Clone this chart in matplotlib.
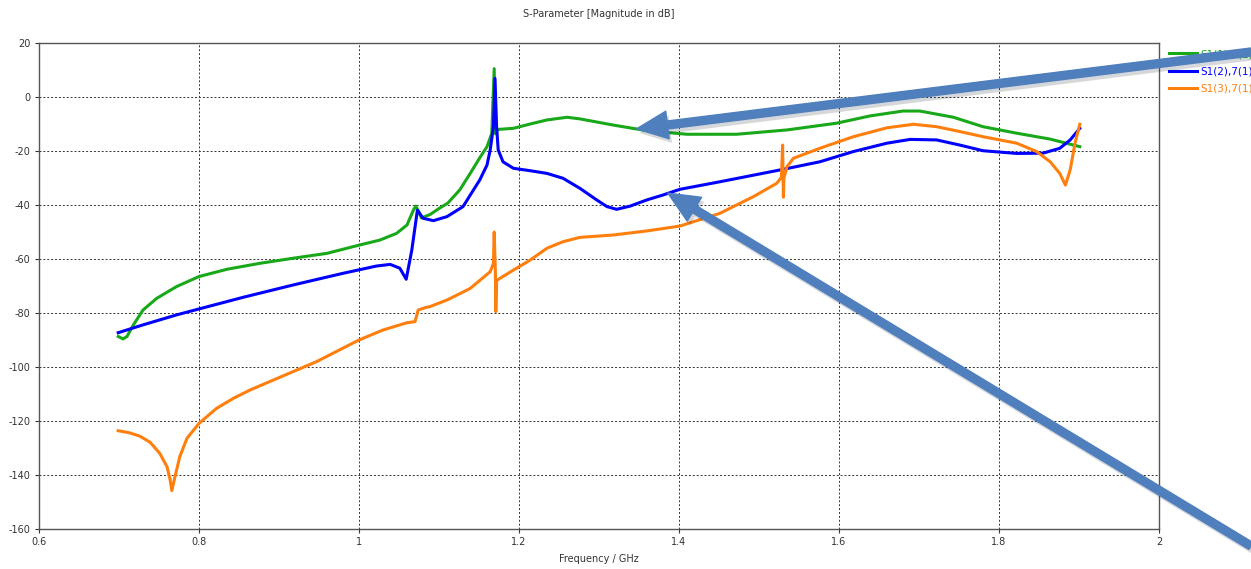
import matplotlib
matplotlib.use("Agg")
import matplotlib.pyplot as plt
import matplotlib.patheffects as pe

plt.rcParams["axes.unicode_minus"] = False

# Frecuencias (GHz) y magnitudes (dB)
f_s11 = [0.699, 0.705, 0.710, 0.718, 0.730, 0.747, 0.772, 0.800, 0.835, 0.876, 0.918, 0.960,
         1.001, 1.026, 1.047, 1.060, 1.068, 1.071, 1.0746, 1.078, 1.089, 1.101, 1.111, 1.126,
         1.139, 1.151, 1.160, 1.166, 1.169, 1.1705, 1.174, 1.193, 1.214, 1.235, 1.260, 1.276,
         1.318, 1.360, 1.410, 1.472, 1.535, 1.597, 1.639, 1.680, 1.701, 1.743, 1.780, 1.822,
         1.864, 1.901]
s11 = [-88.7, -89.6, -88.7, -84.4, -78.9, -74.6, -70.2, -66.5, -63.8, -61.6, -59.7, -57.9,
       -54.8, -53.0, -50.5, -47.4, -41.9, -40.4, -42.5, -44.8, -43.5, -41.1, -39.3, -34.4,
       -28.3, -22.5, -18.4, -13.4, 10.5, -13.6, -12.0, -11.6, -10.0, -8.5, -7.5, -8.1,
       -10.4, -12.5, -13.8, -13.8, -12.2, -9.7, -7.0, -5.2, -5.2, -7.5, -11.0, -13.4,
       -15.6, -18.4]

f_s12 = [0.699, 0.730, 0.772, 0.800, 0.855, 0.918, 0.980, 1.022, 1.039, 1.051, 1.059, 1.066,
         1.073, 1.080, 1.093, 1.110, 1.130, 1.151, 1.160, 1.164, 1.168, 1.170, 1.172, 1.174,
         1.180, 1.193, 1.214, 1.235, 1.255, 1.276, 1.297, 1.310, 1.322, 1.339, 1.360, 1.380,
         1.401, 1.451, 1.530, 1.576, 1.618, 1.660, 1.689, 1.722, 1.751, 1.780, 1.822, 1.855,
         1.876, 1.889, 1.901]
s12 = [-87.3, -84.4, -80.7, -78.5, -74.2, -69.6, -65.3, -62.6, -62.0, -63.4, -67.5, -56.7,
       -41.9, -44.9, -45.8, -44.3, -40.6, -30.7, -25.2, -19.6, -11.0, 6.9, -11.0, -19.6,
       -24.0, -26.4, -27.3, -28.3, -30.1, -33.8, -38.1, -40.6, -41.6, -40.4, -38.1, -36.3,
       -34.2, -31.4, -26.8, -24.0, -20.2, -17.1, -15.7, -15.9, -17.8, -19.9, -20.9, -20.8,
       -19.0, -15.9, -11.6]

f_s13 = [0.699, 0.712, 0.726, 0.739, 0.751, 0.760, 0.764, 0.766, 0.770, 0.776, 0.785, 0.800,
         0.822, 0.843, 0.864, 0.905, 0.947, 1.000, 1.030, 1.060, 1.070, 1.074, 1.083, 1.089,
         1.110, 1.139, 1.164, 1.168, 1.169, 1.1705, 1.171, 1.172, 1.176, 1.193, 1.214, 1.235,
         1.255, 1.276, 1.318, 1.360, 1.401, 1.451, 1.493, 1.522, 1.528, 1.5295, 1.5305, 1.5312,
         1.535, 1.543, 1.576, 1.618, 1.660, 1.693, 1.722, 1.751, 1.780, 1.822, 1.847, 1.864,
         1.876, 1.883, 1.889, 1.895, 1.901]
s13 = [-123.6, -124.3, -125.6, -127.9, -132.0, -136.9, -141.9, -145.8, -140.6, -133.2, -126.4, -120.9,
       -115.3, -111.6, -108.5, -103.3, -98.0, -90.0, -86.3, -83.6, -83.2, -78.9, -78.0, -77.6,
       -75.2, -70.9, -64.7, -61.6, -50.0, -65.0, -79.5, -68.0, -67.2, -64.1, -60.4, -56.0,
       -53.6, -52.0, -51.1, -49.6, -47.8, -43.1, -36.9, -32.0, -29.8, -17.8, -37.1, -30.0,
       -25.8, -22.7, -19.0, -14.7, -11.4, -10.1, -11.0, -12.8, -14.7, -17.1, -20.2, -24.0,
       -28.3, -32.6, -27.0, -17.1, -10.1]

etiquetas = ["S1(1),7(1)", "S1(2),7(1)", "S1(3),7(1)"]
colores = ["#19a819", "#0000ff", "#ff7f0e"]

fig = plt.figure(figsize=(12.51, 5.69), dpi=100)
ax = fig.add_axes([39 / 1251, 40 / 569, 1120 / 1251, 486 / 569])

for fx, sx, lab, col in zip([f_s11, f_s12, f_s13], [s11, s12, s13], etiquetas, colores):
    ax.plot(fx, sx, color=col, lw=2.2, label=lab)

ax.set_xlim(0.6, 2.0)
ax.set_ylim(-160, 20)
ax.set_xticks([0.6, 0.8, 1.0, 1.2, 1.4, 1.6, 1.8, 2.0])
ax.set_xticklabels(["0.6", "0.8", "1", "1.2", "1.4", "1.6", "1.8", "2"])
ax.set_yticks(range(-160, 21, 20))
ax.grid(True, color="#333333", lw=0.7, linestyle=(0, (2, 2)))
ax.tick_params(labelsize=7, colors="#333333", length=3, width=0.8, pad=3)
for sp in ax.spines.values():
    sp.set_color("#555555")
    sp.set_linewidth(1.0)

ax.set_xlabel("Frequency / GHz", fontsize=7, color="#333333", labelpad=5)
fig.text(599 / 1251, 1 - 14 / 569, "S-Parameter [Magnitude in dB]", fontsize=7,
         color="#333333", ha="center", va="center")

leg = ax.legend(loc="upper left", bbox_to_anchor=(1.005, 0.996), frameon=False,
                fontsize=7.5, labelcolor="linecolor", handlelength=2.7,
                handletextpad=0.3, labelspacing=0.7, borderaxespad=0)
leg.set_zorder(5)

# Flechas añadidas sobre el gráfico
estilo = "simple,head_length=1.4,head_width=1.25,tail_width=0.36"
sombra = [pe.SimplePatchShadow(offset=(2, -3), alpha=0.18), pe.Normal()]
for punta, cola in [((1.347, -11.8), (1.0, 1 - 52 / 569)),
                    ((1.386, -35.6), (1.0, 1 - 546 / 569))]:
    an = ax.annotate("", xy=punta, xycoords="data", xytext=cola,
                     textcoords="figure fraction", annotation_clip=False,
                     arrowprops=dict(arrowstyle=estilo, mutation_scale=16,
                                     color="#4f7fbd", shrinkA=0, shrinkB=0,
                                     path_effects=sombra))
    an.set_zorder(10)

fig.savefig("out.png", dpi=100)
